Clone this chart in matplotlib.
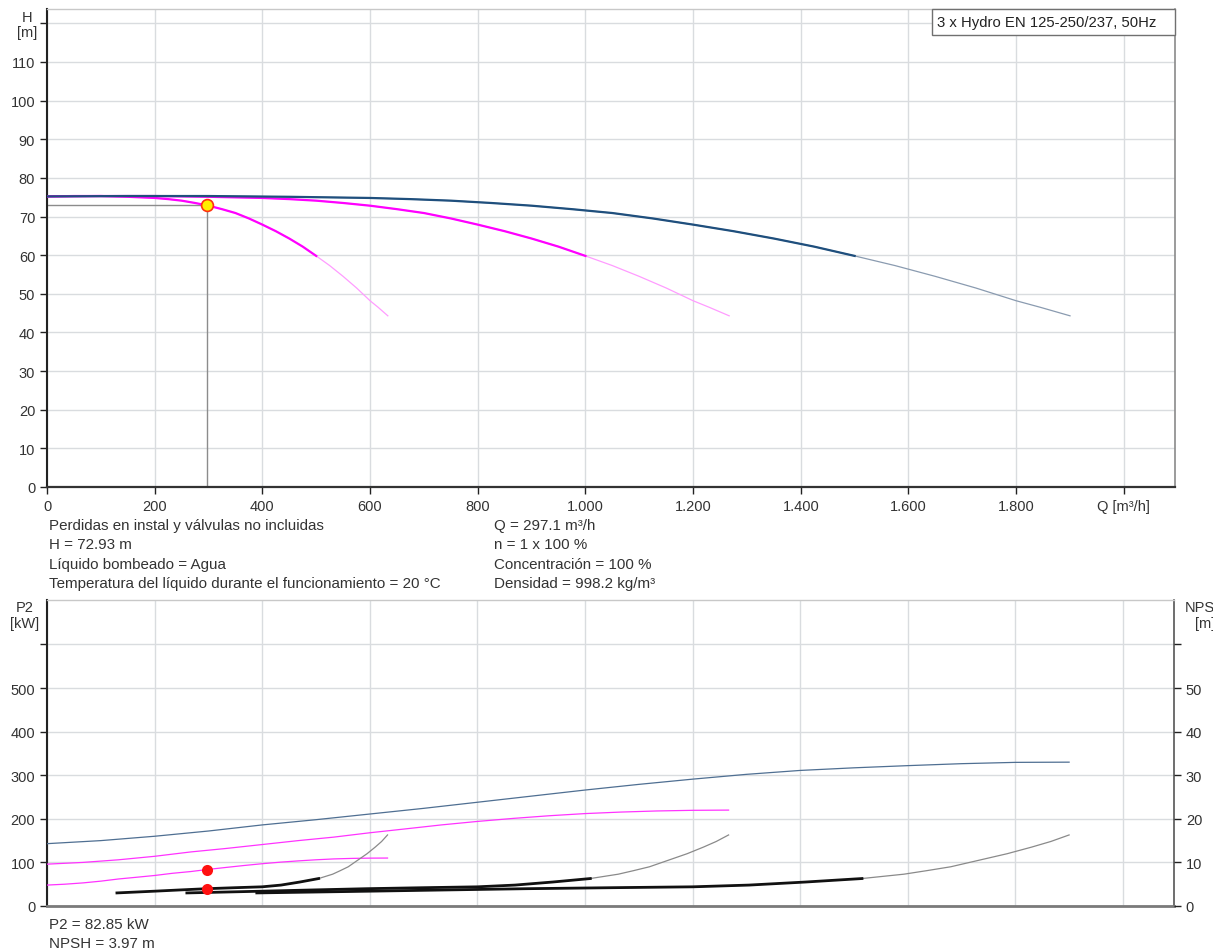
"""Pump curves for 3 x Hydro EN 125-250/237 running 1, 2 or 3 pumps."""

import matplotlib
import matplotlib.pyplot as plt
from matplotlib.patches import Rectangle

matplotlib.use("Agg")

plt.rcParams['font.family'] = ['Liberation Sans', 'DejaVu Sans']

TEXT = '#333333'
GRID = '#d9dcdf'

# Q-H curves (m3/h, m)
q_one = [0, 50, 100, 150, 200, 225, 250, 275, 300, 325, 350, 375, 400,
         425, 450, 475, 500, 525, 550, 575, 600, 615, 633]
q_two = [0, 100, 200, 300, 400, 450, 500, 550, 600, 650, 700, 750, 800,
         850, 900, 950, 1000, 1050, 1100, 1150, 1200, 1230, 1267]
q_three = [0, 150, 300, 450, 600, 675, 750, 825, 900, 975, 1050, 1125, 1200,
           1275, 1350, 1425, 1500, 1575, 1650, 1725, 1800, 1845, 1900]
head = [75.2, 75.3, 75.3, 75.1, 74.8, 74.5, 74.1, 73.5, 72.8, 71.9, 70.9,
        69.5, 67.9, 66.2, 64.3, 62.2, 59.8, 57.3, 54.5, 51.5, 48.2, 46.5, 44.3]
head_split = 17  # end of the recommended range

# P2 curves (kW)
p2_q_one = [0, 33, 67, 100, 133, 167, 200, 233, 267, 300, 333, 367, 400,
            433, 467, 500, 533, 567, 600, 633]
p2_one = [48, 50, 53, 57, 62, 66, 70, 75, 79, 84, 88.5, 93, 97,
          100.5, 103.5, 106, 108, 109.2, 109.8, 110]
p2_q_two = [0, 67, 133, 200, 267, 333, 400, 467, 533, 600, 667, 733, 800,
            867, 933, 1000, 1067, 1133, 1200, 1267]
p2_two = [96, 100, 106, 114, 124, 132, 141, 150, 158, 168, 177, 186, 194,
          201, 207, 212, 215.5, 218, 219.5, 220]
p2_q_three = [0, 100, 200, 300, 400, 500, 600, 700, 800, 900, 1000, 1100,
              1200, 1300, 1400, 1500, 1600, 1700, 1800, 1900]
p2_three = [143, 150, 160, 172, 186, 198, 211, 224, 238, 252, 266, 279,
            291, 302, 311, 317, 322, 326.5, 329.5, 330]

# NPSH curves (m)
npsh_q_one = [130, 165, 200, 250, 297, 350, 400, 435, 470, 505, 531, 545,
              560, 581, 595, 610, 622, 633]
npsh_q_two = [260, 330, 400, 500, 594, 700, 800, 870, 940, 1010, 1062, 1090,
              1120, 1162, 1190, 1220, 1244, 1267]
npsh_q_three = [390, 495, 600, 750, 891, 1050, 1200, 1305, 1410, 1515, 1593,
                1635, 1680, 1743, 1785, 1830, 1866, 1900]
npsh = [3.0, 3.2, 3.4, 3.7, 3.97, 4.2, 4.4, 4.8, 5.5, 6.3, 7.3, 8.1,
        9.0, 10.8, 12.0, 13.5, 14.8, 16.3]
npsh_split = 10

# duty point
duty_q = 297.1
duty_h = 72.93
duty_p2 = 82.85
duty_npsh = 3.97

q_ticks = [0, 200, 400, 600, 800, 1000, 1200, 1400, 1600, 1800, 2000]
q_labels = ['0', '200', '400', '600', '800', '1.000', '1.200', '1.400',
            '1.600', '1.800', 'Q [m³/h]']
h_ticks = list(range(0, 130, 10))
p2_ticks = list(range(0, 700, 100))
npsh_ticks = list(range(0, 70, 10))

info_left = ['Perdidas en instal y válvulas no incluidas',
             'H = 72.93 m',
             'Líquido bombeado = Agua',
             'Temperatura del líquido durante el funcionamiento = 20 °C']
info_right = ['Q = 297.1 m³/h',
              'n = 1 x 100 %',
              'Concentración = 100 %',
              'Densidad = 998.2 kg/m³']
info_bottom = ['P2 = 82.85 kW', 'NPSH = 3.97 m']

W, H = 1213, 953
TICK_SIZE = 10.5
INFO_SIZE = 10.9


def px_axes(left, top, right, bottom):
    """Axes rectangle from pixel edges."""
    return [left / W, 1 - bottom / H, (right - left) / W, (bottom - top) / H]


def fig_text(fig, x, y, s, **kw):
    fig.text(x / W, 1 - y / H, s, color=TEXT, **kw)


def style_frame(ax, right_axis=False):
    ax.grid(True, color=GRID, linewidth=1.0)
    ax.set_axisbelow(True)
    ax.spines['top'].set_color('#c8c8c8')
    ax.spines['top'].set_linewidth(1.0)
    ax.spines['right'].set_color('#555555' if right_axis else '#8a8a8a')
    ax.spines['right'].set_linewidth(1.2)
    ax.spines['left'].set_color('#222222')
    ax.spines['left'].set_linewidth(1.5)
    ax.spines['bottom'].set_color('#333333')
    ax.spines['bottom'].set_linewidth(1.6)
    ax.tick_params(axis='both', colors='#222222', labelcolor=TEXT,
                   labelsize=TICK_SIZE, length=5, width=1.0, direction='out')


fig = plt.figure(figsize=(W / 100, H / 100), dpi=100)

# --- Q-H diagram ---
ax = fig.add_axes(px_axes(47, 10, 1175, 488))
style_frame(ax)
ax.set_xlim(0, 2095)
ax.set_ylim(0, 123.7)
ax.set_xticks(q_ticks)
ax.set_xticklabels(q_labels)
ax.set_yticks(h_ticks)
ax.set_yticklabels([str(t) if t < 120 else '' for t in h_ticks])

for q, thick, thin in [(q_one, '#ff00ff', '#ff9cff'),
                       (q_two, '#ff00ff', '#ff9cff'),
                       (q_three, '#1f4f7d', '#8a9bb0')]:
    ax.plot(q, head, color=thin, linewidth=0.9, zorder=3)
    ax.plot(q[:head_split], head[:head_split], color=thick, linewidth=1.6,
            zorder=4, solid_joinstyle='round')

ax.plot([0, duty_q], [duty_h, duty_h], color='#8c8c8c', linewidth=1.0, zorder=2)
ax.plot([duty_q, duty_q], [0, duty_h], color='#8c8c8c', linewidth=1.0, zorder=2)
ax.plot([duty_q], [duty_h], marker='o', markersize=8.5,
        markerfacecolor='#ffee00', markeredgecolor='#ff3010',
        markeredgewidth=1.2, zorder=6)

ax.add_patch(Rectangle((0.7846, 0.9456), 0.2154, 0.0544,
                       transform=ax.transAxes, facecolor='white',
                       edgecolor='#707070', linewidth=1.0, zorder=7,
                       clip_on=False))
ax.text(0.789, 0.9735, '3 x Hydro EN 125-250/237, 50Hz', transform=ax.transAxes,
        ha='left', va='center', fontsize=10.7, color='#222222', zorder=8)

fig_text(fig, 27, 25.5, 'H\n[m]', ha='center', va='center', fontsize=TICK_SIZE,
         linespacing=1.15)

for i, line in enumerate(info_left):
    fig_text(fig, 49, 526 + i * 19.3, line, ha='left', va='center',
             fontsize=INFO_SIZE)
for i, line in enumerate(info_right):
    fig_text(fig, 494, 526 + i * 19.3, line, ha='left', va='center',
             fontsize=INFO_SIZE)

# --- P2 / NPSH diagram ---
ax2 = fig.add_axes(px_axes(47, 601, 1174, 907))
style_frame(ax2, right_axis=True)
ax2.spines['bottom'].set_color('#7a7a7a')
ax2.spines['bottom'].set_linewidth(2.0)
ax2.set_xlim(0, 2095)
ax2.set_ylim(0, 702)
ax2.set_xticks(q_ticks)
ax2.tick_params(axis='x', length=0, labelbottom=False)
ax2.set_yticks(p2_ticks)
ax2.set_yticklabels([str(t) if t < 600 else '' for t in p2_ticks])

ax2.plot(p2_q_three, p2_three, color='#4f6f92', linewidth=0.9, zorder=3)
ax2.plot(p2_q_two, p2_two, color='#ff33ff', linewidth=0.9, zorder=3)
ax2.plot(p2_q_one, p2_one, color='#ff33ff', linewidth=0.9, zorder=3)
ax2.plot([duty_q], [duty_p2], marker='o', markersize=8, color='#ff1010',
         markeredgewidth=0, zorder=6)

ax3 = ax2.twinx()
ax3.set_ylim(0, 70.2)
ax3.set_yticks(npsh_ticks)
ax3.set_yticklabels([str(t) if t < 60 else '' for t in npsh_ticks])
ax3.tick_params(axis='y', colors='#222222', labelcolor=TEXT,
                labelsize=TICK_SIZE, length=5, width=1.0)
for s in ax3.spines.values():
    s.set_visible(False)

for q in (npsh_q_one, npsh_q_two, npsh_q_three):
    ax3.plot(q, npsh, color='#8a8a8a', linewidth=0.9, zorder=3)
    ax3.plot(q[:npsh_split], npsh[:npsh_split], color='#111111',
             linewidth=2.0, zorder=4, solid_joinstyle='round')
ax3.plot([duty_q], [duty_npsh], marker='o', markersize=8, color='#ff1010',
         markeredgewidth=0, zorder=6)

fig_text(fig, 25, 616, 'P2\n[kW]', ha='center', va='center',
         fontsize=TICK_SIZE, linespacing=1.15)
# right-hand axis title runs off the right edge of the sheet
fig_text(fig, 1205, 616, 'NPSH\n[m]', ha='center', va='center',
         fontsize=TICK_SIZE, linespacing=1.15)

for i, line in enumerate(info_bottom):
    fig_text(fig, 49, 925 + i * 19.3, line, ha='left', va='center',
             fontsize=INFO_SIZE)

fig.savefig('out.png', dpi=100)
plt.close(fig)
